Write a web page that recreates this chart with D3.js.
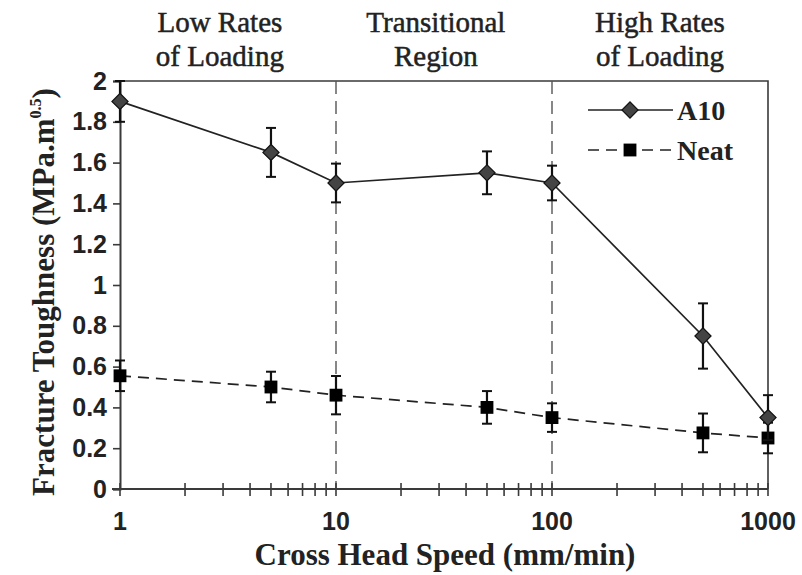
<!DOCTYPE html>
<html>
<head>
<meta charset="utf-8">
<script src="https://cdn.jsdelivr.net/npm/d3@7"></script>
<style>
  body { margin: 0; background: #fff; }
  svg { display: block; }
</style>
</head>
<body>
<svg id="chart"></svg>
<script>
// data
const speeds = [1, 5, 10, 50, 100, 500, 1000];
const a10 = [1.9, 1.65, 1.5, 1.55, 1.5, 0.75, 0.35];
const a10Err = [0.1, 0.12, 0.095, 0.105, 0.085, 0.16, 0.11];
const neat = [0.555, 0.5, 0.46, 0.4, 0.35, 0.275, 0.25];
const neatErr = [0.075, 0.075, 0.094, 0.08, 0.07, 0.095, 0.075];
const yTicks = [0, 0.2, 0.4, 0.6, 0.8, 1, 1.2, 1.4, 1.6, 1.8, 2];
const xTicks = [1, 10, 100, 1000];
const regionLines = [10, 100];
const regions = [
  { at: 2.9, lines: ["Low Rates", "of Loading"] },
  { at: 29, lines: ["Transitional", "Region"] },
  { at: 316, lines: ["High Rates", "of Loading"] },
];

const width = 802, height = 575;
const margin = { top: 81, right: 34, bottom: 86, left: 120 };

const svg = d3.select("#chart").attr("width", width).attr("height", height);

const x = d3.scaleLog().domain([1, 1000]).range([margin.left, width - margin.right]);
const y = d3.scaleLinear().domain([0, 2]).range([height - margin.bottom, margin.top]);

const ink = "#3a3a3a";
const sans = "'Liberation Sans', Arial, sans-serif";
const serif = "'Liberation Serif', 'Times New Roman', serif";

// plot frame (top and right)
svg.append("path")
  .attr("d", `M${x(1)},${y(2)}H${x(1000)}V${y(0)}`)
  .attr("fill", "none").attr("stroke", ink).attr("stroke-width", 1.6);

// region separators
svg.append("g").selectAll("line")
  .data(regionLines)
  .join("line")
  .attr("x1", d => x(d)).attr("x2", d => x(d))
  .attr("y1", y(2)).attr("y2", y(0))
  .attr("stroke", "#555").attr("stroke-width", 1.4)
  .attr("stroke-dasharray", "13,7");

// y axis
const yAxis = svg.append("g")
  .attr("transform", `translate(${x(1)},0)`)
  .call(d3.axisLeft(y).tickValues(yTicks).tickSize(7).tickPadding(6)
    .tickFormat(d => d3.format("")(+d.toFixed(1))));
yAxis.select(".domain").attr("stroke", ink).attr("stroke-width", 2);
yAxis.selectAll(".tick line").attr("stroke", ink).attr("stroke-width", 1.6);
yAxis.selectAll("text")
  .attr("font-family", sans).attr("font-weight", "bold")
  .attr("font-size", 25).attr("fill", "#222");

// x axis: ticks cross the line, with minor ticks
const minor = [];
for (let p = 1; p < 1000; p *= 10) for (let k = 1; k <= 9; k++) minor.push(p * k);
minor.push(1000);
const xAxis = svg.append("g").attr("transform", `translate(0,${y(0)})`);
xAxis.append("line")
  .attr("x1", x(1) - 8).attr("x2", x(1000))
  .attr("stroke", ink).attr("stroke-width", 2);
xAxis.selectAll(".mt")
  .data(minor)
  .join("line")
  .attr("class", "mt")
  .attr("x1", d => x(d)).attr("x2", d => x(d))
  .attr("y1", -6).attr("y2", 7)
  .attr("stroke", ink).attr("stroke-width", 1.6);
xAxis.selectAll(".lbl")
  .data(xTicks)
  .join("text")
  .attr("class", "lbl")
  .attr("x", d => x(d)).attr("y", 41)
  .attr("text-anchor", "middle")
  .attr("font-family", sans).attr("font-weight", "bold")
  .attr("font-size", 25).attr("fill", "#222")
  .text(d => d);

// axis titles
svg.append("text")
  .attr("x", 445).attr("y", 565)
  .attr("text-anchor", "middle")
  .attr("font-family", serif).attr("font-weight", "bold")
  .attr("font-size", 31).attr("fill", "#222")
  .text("Cross Head Speed (mm/min)");

const yt = svg.append("text")
  .attr("transform", `translate(54,292) rotate(-90)`)
  .attr("text-anchor", "middle")
  .attr("font-family", serif).attr("font-weight", "bold")
  .attr("font-size", 31).attr("fill", "#222");
yt.append("tspan").text("Fracture Toughness (MPa.m");
yt.append("tspan").attr("font-size", 16).attr("dy", -13).text("0.5");
yt.append("tspan").attr("dy", 13).text(")");

// region labels
const rl = svg.append("g").selectAll("text")
  .data(regions)
  .join("text")
  .attr("text-anchor", "middle")
  .attr("font-family", serif)
  .attr("font-size", 29).attr("fill", "#222")
  .attr("stroke", "#222").attr("stroke-width", 0.5);
rl.selectAll("tspan")
  .data((d) => d.lines.map((t, i) => ({ t, i, at: d.at })))
  .join("tspan")
  .attr("x", d => x(d.at))
  .attr("y", d => 32 + d.i * 34)
  .text(d => d.t);

// series
const rows = (vals, errs) => speeds.map((s, i) => ({ s, v: vals[i], e: errs[i] }));
const series = [
  { name: "Neat", data: rows(neat, neatErr), dash: "11,7", marker: "square" },
  { name: "A10", data: rows(a10, a10Err), dash: null, marker: "diamond" },
];

const line = d3.line().x(d => x(d.s)).y(d => y(d.v));

const sym = {
  diamond: d3.symbol().type(d3.symbolSquare).size(130),
  square: d3.symbol().type(d3.symbolSquare).size(165),
};

function drawMarker(g, kind, cx, cy) {
  if (kind === "diamond") {
    g.append("path").attr("d", sym.diamond())
      .attr("transform", `translate(${cx},${cy}) rotate(45)`)
      .attr("fill", "#444").attr("stroke", "#111").attr("stroke-width", 1.2);
  } else {
    g.append("path").attr("d", sym.square())
      .attr("transform", `translate(${cx},${cy})`)
      .attr("fill", "#000");
  }
}

series.forEach((sr) => {
  const g = svg.append("g");
  g.append("path")
    .datum(sr.data)
    .attr("d", line)
    .attr("fill", "none").attr("stroke", "#222").attr("stroke-width", 1.7)
    .attr("stroke-dasharray", sr.dash);
  const eb = g.selectAll(".eb").data(sr.data).join("g").attr("class", "eb");
  eb.append("line")
    .attr("x1", d => x(d.s)).attr("x2", d => x(d.s))
    .attr("y1", d => y(d.v - d.e)).attr("y2", d => y(d.v + d.e))
    .attr("stroke", "#111").attr("stroke-width", 2.2);
  [-1, 1].forEach((sg) => {
    eb.append("line")
      .attr("x1", d => x(d.s) - 5).attr("x2", d => x(d.s) + 5)
      .attr("y1", d => y(d.v + sg * d.e)).attr("y2", d => y(d.v + sg * d.e))
      .attr("stroke", "#111").attr("stroke-width", 2);
  });
  sr.data.forEach(d => drawMarker(g, sr.marker, x(d.s), y(d.v)));
});

// legend
const legend = svg.append("g");
[{ s: series[1], ly: 110 }, { s: series[0], ly: 150 }].forEach(({ s, ly }) => {
  legend.append("line")
    .attr("x1", 588).attr("x2", 673).attr("y1", ly).attr("y2", ly)
    .attr("stroke", "#222").attr("stroke-width", 1.7)
    .attr("stroke-dasharray", s.dash);
  drawMarker(legend, s.marker, 630, ly);
  legend.append("text")
    .attr("x", 677).attr("y", ly + 10)
    .attr("font-family", serif).attr("font-weight", "bold")
    .attr("font-size", 28).attr("fill", "#222")
    .text(s.name);
});
</script>
</body>
</html>
